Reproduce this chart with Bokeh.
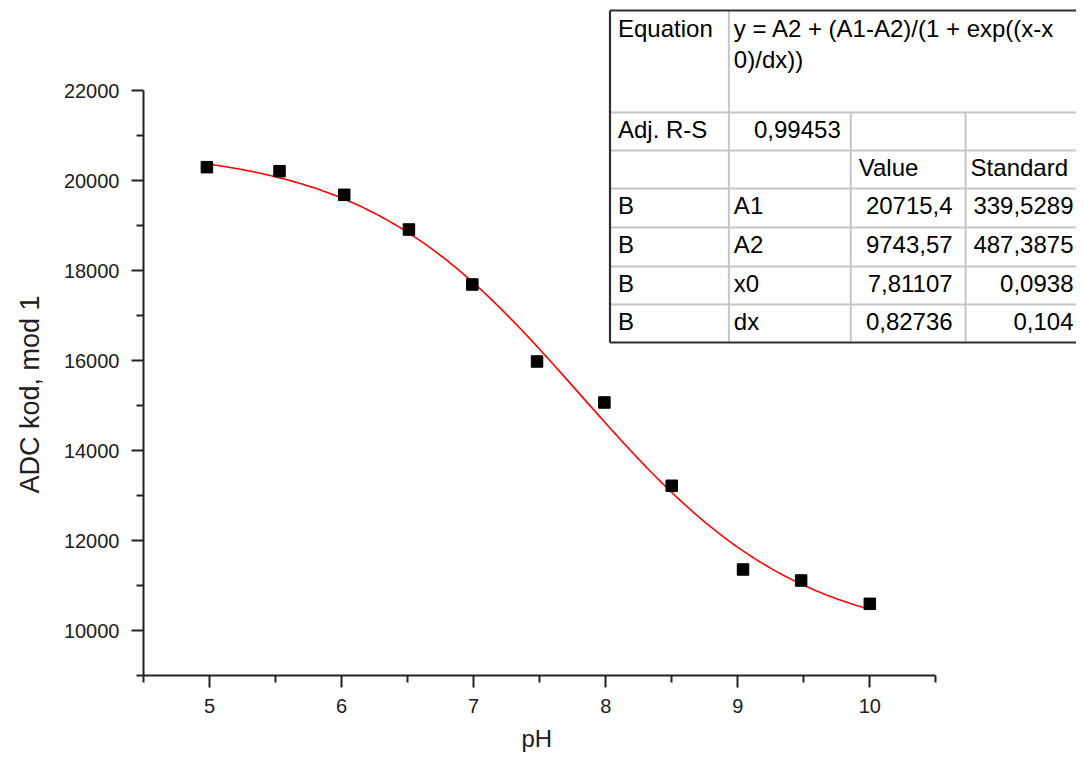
import numpy as np
from bokeh.plotting import figure
from bokeh.models import Range1d, FixedTicker, ColumnDataSource, Title
from bokeh.embed import file_html
from bokeh.resources import INLINE
from bokeh.core.properties import value

# ---------------- data ----------------
ph = [4.98, 5.53, 6.02, 6.51, 6.99, 7.48, 7.99, 8.50, 9.04, 9.48, 10.0]
adc = [20296, 20207, 19682, 18911, 17689, 15978, 15067, 13216, 11356, 11111, 10593]

# Boltzmann fit parameters as printed in the table
param_names = ["A1", "A2", "x0", "dx"]
param_values = [20715.4, 9743.57, 7.81107, 0.82736]
param_value_labels = ["20715,4", "9743,57", "7,81107", "0,82736"]
param_std_labels = ["339,5289", "487,3875", "0,0938", "0,104"]
param_group = ["B", "B", "B", "B"]
adj_r2_label = "0,99453"
equation_lines = ["y = A2 + (A1-A2)/(1 + exp((x-x", "0)/dx))"]
header_labels = ["Equation", "Adj. R-S", "Value", "Standard"]
x_title = "pH"
y_title = "ADC kod, mod 1"

x_major = [5, 6, 7, 8, 9, 10]
x_minor = [4.5, 5.5, 6.5, 7.5, 8.5, 9.5, 10.5]
y_major = [10000, 12000, 14000, 16000, 18000, 20000, 22000]
y_minor = [9000, 11000, 13000, 15000, 17000, 19000, 21000]

# ---------------- layout ----------------
W, H = 1076, 765
L = 142               # frame left (y axis position)
FB = 675              # frame bottom (x axis position)
B = H - FB
FW, FH = W - L, FB
XS = 132.2      # px per pH unit
YS = 0.045      # px per ADC unit
x0_axis, y0_axis = 4.5, 9000

p = figure(width=W, height=H,
           x_range=Range1d(x0_axis, x0_axis + FW / XS),
           y_range=Range1d(y0_axis, y0_axis + FH / YS),
           output_backend="svg", toolbar_location=None,
           min_border_left=L, min_border_bottom=B,
           min_border_right=0, min_border_top=0)
p.outline_line_color = None
p.xgrid.visible = False
p.ygrid.visible = False
p.background_fill_color = "white"
p.border_fill_color = "white"

AX = "#222222"
FONT = "Liberation Sans"
for ax in (p.xaxis[0], p.yaxis[0]):
    ax.axis_line_color = AX
    ax.axis_line_width = 2
    ax.major_tick_line_color = AX
    ax.major_tick_line_width = 2
    ax.minor_tick_line_color = AX
    ax.minor_tick_line_width = 2
    ax.major_tick_out = 12
    ax.major_tick_in = 0
    ax.minor_tick_out = 7
    ax.minor_tick_in = 0
    ax.major_label_text_font = FONT
    ax.major_label_text_font_size = "20px"
    ax.major_label_text_color = "#202020"

xa = p.xaxis[0]
xa.ticker = FixedTicker(ticks=x_major, minor_ticks=x_minor)
xa.bounds = (4.5, 10.5)
xa.major_label_standoff = 11

ya = p.yaxis[0]
ya.ticker = FixedTicker(ticks=y_major, minor_ticks=y_minor)
ya.bounds = (9000, 22000)
ya.major_label_standoff = 12

# axis titles as side-panel titles, aligned along the bounded axes
p.add_layout(Title(text=y_title, align="left", offset=182, vertical_align="top",
                   standoff=28, text_font=FONT, text_font_size="27px",
                   text_font_style="normal", text_color="#202020"), "left")
p.add_layout(Title(text=x_title, align="left", offset=378, vertical_align="bottom",
                   standoff=14, text_font=FONT, text_font_size="24px",
                   text_font_style="normal", text_color="#202020"), "below")

# fit curve from the printed parameters
A1, A2, X0, DX = param_values
xf = np.linspace(min(ph), max(ph), 300)
yf = A2 + (A1 - A2) / (1 + np.exp((xf - X0) / DX))
p.line(xf, yf, line_color="#ff0000", line_width=1.6)

p.scatter(ph, adc, marker="square", size=11.5, fill_color="black", line_color="black")

# ---------------- results table (pixel-like ranges) ----------------
p.extra_x_ranges = {"tx": Range1d(L, W)}
p.extra_y_ranges = {"ty": Range1d(FH, 0)}

col_x = [609, 728, 850, 965]
row_y = [10, 112, 150, 188, 227, 266, 304, 342]
tl, tt, tb = col_x[0], row_y[0], row_y[-1]

p.quad(left=tl, right=W, top=tt, bottom=tb, fill_color="white", line_color=None,
       x_range_name="tx", y_range_name="ty")

GRAY = "#c6c6c6"
hx0, hx1, hy0, hy1 = [], [], [], []
for yy in row_y[1:-1]:
    hx0.append(tl); hx1.append(W); hy0.append(yy); hy1.append(yy)
vx0 = [col_x[1], col_x[2], col_x[3]]
vy0 = [row_y[0], row_y[1], row_y[1]]
vy1 = [row_y[-1]] * 3
p.segment(x0=hx0, y0=hy0, x1=hx1, y1=hy1, line_color=GRAY, line_width=2,
          x_range_name="tx", y_range_name="ty")
p.segment(x0=vx0, y0=vy0, x1=vx0, y1=vy1, line_color=GRAY, line_width=2,
          x_range_name="tx", y_range_name="ty")
p.segment(x0=[tl, tl, tl], y0=[tt, tt, tb], x1=[W, tl, W], y1=[tt, tb, tb],
          line_color="#303030", line_width=2.2,
          x_range_name="tx", y_range_name="ty")

PADL = 8
PADR = 10
# vertical centre of the text in each single-line row
mid = [(row_y[i] + row_y[i + 1]) / 2 - 2.5 for i in range(1, len(row_y) - 1)]

lt_x, lt_y, lt_t = [], [], []
rt_x, rt_y, rt_t = [], [], []
lt_x += [col_x[0] + PADL, col_x[1] + 5, col_x[1] + 5]
lt_y += [28, 28, 59]
lt_t += [header_labels[0], equation_lines[0], equation_lines[1]]
lt_x.append(col_x[0] + PADL); lt_y.append(mid[0]); lt_t.append(header_labels[1])
rt_x.append(col_x[2] - PADR); rt_y.append(mid[0]); rt_t.append(adj_r2_label)
lt_x += [col_x[2] + PADL, col_x[3] + 5]
lt_y += [mid[1], mid[1]]
lt_t += [header_labels[2], header_labels[3]]
for i in range(len(param_names)):
    by = mid[2 + i]
    lt_x += [col_x[0] + PADL, col_x[1] + 5]
    lt_y += [by, by]
    lt_t += [param_group[i], param_names[i]]
    rt_x += [col_x[3] - 13, W - 3]
    rt_y += [by, by]
    rt_t += [param_value_labels[i], param_std_labels[i]]

common = dict(text_font=value(FONT), text_font_size=value("24px"),
              text_color="black", text_baseline="middle",
              x_range_name="tx", y_range_name="ty")
p.text(x="x", y="y", text="t", text_align="left",
       source=ColumnDataSource(dict(x=lt_x, y=lt_y, t=lt_t)), **common)
p.text(x="x", y="y", text="t", text_align="right",
       source=ColumnDataSource(dict(x=rt_x, y=rt_y, t=rt_t)), **common)

open("out.html", "w").write(file_html(p, INLINE))
